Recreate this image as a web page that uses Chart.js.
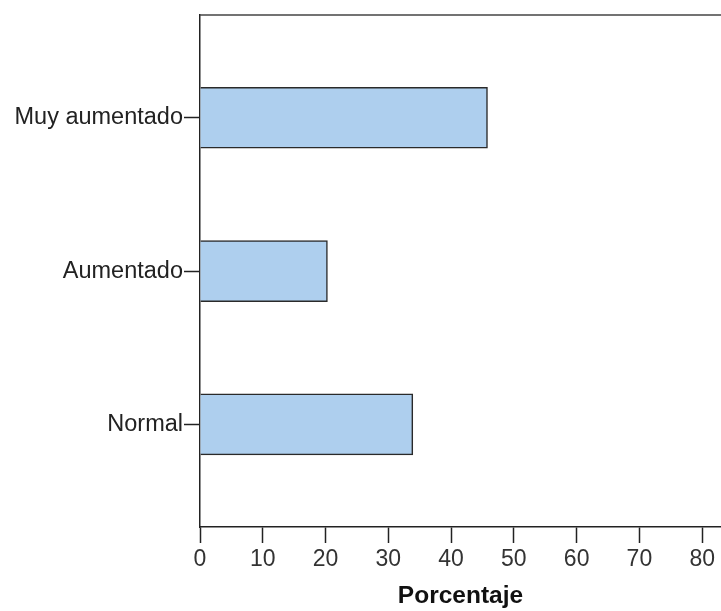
<!DOCTYPE html>
<html>
<head>
<meta charset="utf-8">
<script src="https://cdn.jsdelivr.net/npm/chart.js@4.4.1/dist/chart.umd.min.js"></script>
<style>
  body { margin: 0; background: #fff; }
  #wrap { width: 721px; height: 611px; }
</style>
</head>
<body>
<div id="wrap"><canvas id="barChart"></canvas></div>
<script>
// categories, top to bottom
var categories = ['Muy aumentado', 'Aumentado', 'Normal'];
var percentages = [45.8, 20.3, 33.9];
var xTicks = [0, 10, 20, 30, 40, 50, 60, 70, 80];
var xTitle = 'Porcentaje';

// bars sit on a numeric index axis so the gaps match the original
var points = categories.map(function (c, i) {
    return { x: percentages[i], y: i };
});

// top edge of the plot frame
var frameTop = {
    id: 'frameTop',
    afterDraw: function (chart) {
        var a = chart.chartArea;
        var ctx = chart.ctx;
        ctx.save();
        ctx.strokeStyle = '#444';
        ctx.lineWidth = 1.5;
        ctx.beginPath();
        ctx.moveTo(a.left, a.top);
        ctx.lineTo(a.right, a.top);
        ctx.stroke();
        ctx.restore();
    }
};

var ctx = document.getElementById('barChart').getContext('2d');
var chart = new Chart(ctx, {
    type: 'bar',
    data: {
        datasets: [{
            data: points,
            backgroundColor: '#aecfee',
            borderColor: '#2a2a2a',
            borderWidth: 1.5,
            barThickness: 61
        }]
    },
    plugins: [frameTop],
    options: {
        indexAxis: 'y',
        responsive: true,
        maintainAspectRatio: false,
        animation: false,
        layout: { padding: { top: 14, right: 0, bottom: 0, left: 0 } },
        plugins: {
            legend: { display: false },
            tooltip: { enabled: false }
        },
        scales: {
            x: {
                type: 'linear',
                min: 0,
                max: 83,
                offset: false,
                afterBuildTicks: function (scale) {
                    scale.ticks = xTicks.map(function (v) { return { value: v }; });
                },
                afterFit: function (scale) { scale.height = 84; },
                grid: {
                    offset: false,
                    drawOnChartArea: false,
                    drawTicks: true,
                    tickLength: 16,
                    tickColor: '#222',
                    tickWidth: 1.5
                },
                border: { color: '#222', width: 1.5 },
                ticks: {
                    color: '#333',
                    padding: 3,
                    font: { family: 'Liberation Sans, Arial', size: 23 }
                },
                title: {
                    display: true,
                    text: xTitle,
                    color: '#111',
                    padding: { top: 0, bottom: 0 },
                    font: { family: 'Liberation Sans, Arial', size: 24.5, weight: 'bold' }
                }
            },
            y: {
                type: 'linear',
                reverse: true,
                min: -0.67,
                max: 2.67,
                offset: false,
                afterBuildTicks: function (scale) {
                    scale.ticks = categories.map(function (c, i) { return { value: i }; });
                },
                afterFit: function (scale) { scale.width = 200; },
                grid: {
                    offset: false,
                    drawOnChartArea: false,
                    drawTicks: true,
                    tickLength: 16,
                    tickColor: '#222',
                    tickWidth: 1.5
                },
                border: { color: '#222', width: 1.5 },
                ticks: {
                    color: '#222',
                    padding: 1,
                    font: { family: 'Liberation Sans, Arial', size: 23.5 },
                    callback: function (value) { return categories[value]; }
                }
            }
        }
    }
});
</script>
</body>
</html>
